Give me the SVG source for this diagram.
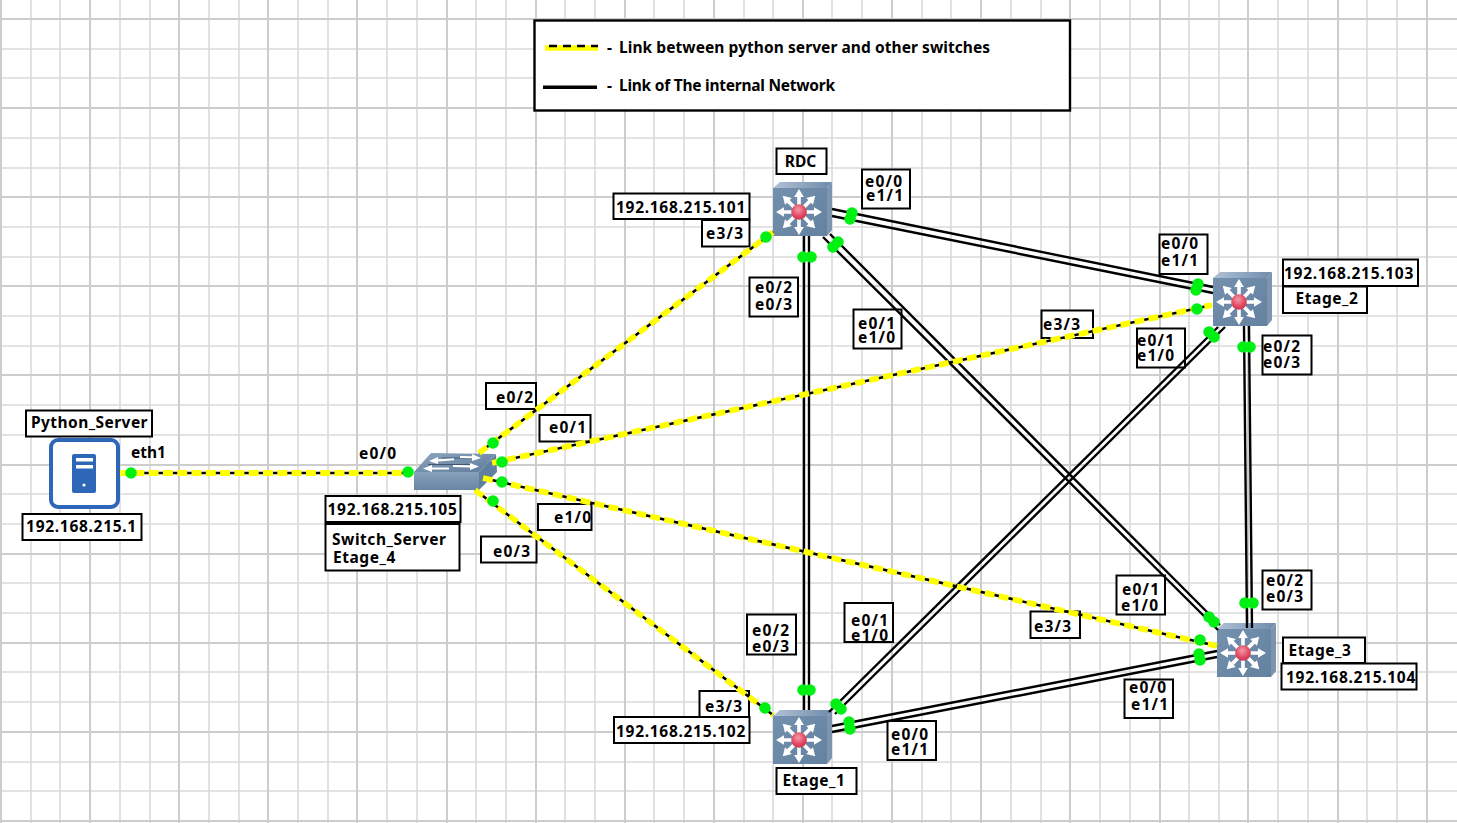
<svg xmlns="http://www.w3.org/2000/svg" xmlns:xlink="http://www.w3.org/1999/xlink" width="1457" height="823" viewBox="0 0 1457 823">
<style>
.minor{stroke:#dadada;stroke-width:1.6;fill:none}
.major{stroke:#cdcdcd;stroke-width:2;fill:none}
.box{fill:#fff;stroke:#000;stroke-width:2}
text{font-family:"Noto Sans","DejaVu Sans",sans-serif;font-weight:700;font-size:15.5px;fill:#000}
.c{text-anchor:middle}
.ip{letter-spacing:.7px}
.nm{letter-spacing:.55px}
.pt{letter-spacing:1.2px}
.ln{stroke:#000;stroke-width:2.4;fill:none}
.yb{stroke:#000;stroke-width:2.600;fill:none}
.yy{stroke:#ffff00;stroke-width:5.800;stroke-dasharray:10 4.300;fill:none}
.dot{fill:#00f014}
</style>
<defs>
<linearGradient id="front" x1="0" y1="0" x2="1" y2="1"><stop offset="0" stop-color="#7390ae"/><stop offset="1" stop-color="#64819f"/></linearGradient>
<linearGradient id="top" x1="0" y1="0" x2="1" y2="0"><stop offset="0" stop-color="#b0c1d6"/><stop offset="1" stop-color="#6f8cab"/></linearGradient>
<linearGradient id="sfront" x1="0" y1="0" x2="0" y2="1"><stop offset="0" stop-color="#87a1bc"/><stop offset="1" stop-color="#6885a3"/></linearGradient>
<linearGradient id="stop" x1="0" y1="0" x2="1" y2="1"><stop offset="0" stop-color="#8ea6bf"/><stop offset="1" stop-color="#5f7c9b"/></linearGradient>
<radialGradient id="red" cx="0.45" cy="0.35" r="0.7"><stop offset="0" stop-color="#f29aa8"/><stop offset="0.6" stop-color="#e34a63"/><stop offset="1" stop-color="#c4324e"/></radialGradient>
<polygon id="ar" points="5,-1.800 15,-1.800 15,-4.800 23,0 15,4.800 15,1.800 5,1.800" fill="#fff"/>
<g id="ml">
<polygon points="-26,-24 -19,-30 33,-30 28,-24" fill="url(#top)"/>
<polygon points="28,-24 33,-30 33,18 28,24" fill="#7c94ae"/>
<rect x="-26" y="-24" width="54" height="48" fill="url(#front)"/>
<use xlink:href="#ar" href="#ar"/>
<use xlink:href="#ar" href="#ar" transform="rotate(45)"/>
<use xlink:href="#ar" href="#ar" transform="rotate(90)"/>
<use xlink:href="#ar" href="#ar" transform="rotate(135)"/>
<use xlink:href="#ar" href="#ar" transform="rotate(180)"/>
<use xlink:href="#ar" href="#ar" transform="rotate(225)"/>
<use xlink:href="#ar" href="#ar" transform="rotate(270)"/>
<use xlink:href="#ar" href="#ar" transform="rotate(315)"/>
<circle r="7.800" fill="url(#red)"/>
</g>
</defs>
<rect width="1457" height="823" fill="#fff"/>
<g id="grid">
<path class="minor" d="M31 0V823M60 0V823M120 0V823M150 0V823M209 0V823M239 0V823M298 0V823M328 0V823M387 0V823M417 0V823M476 0V823M506 0V823M565 0V823M595 0V823M654 0V823M684 0V823M744 0V823M773 0V823M832 0V823M862 0V823M922 0V823M951 0V823M1011 0V823M1041 0V823M1100 0V823M1130 0V823M1189 0V823M1219 0V823M1278 0V823M1308 0V823M1367 0V823M1397 0V823M0 49H1457M0 78H1457M0 138H1457M0 168H1457M0 227H1457M0 257H1457M0 316H1457M0 346H1457M0 405H1457M0 435H1457M0 494H1457M0 524H1457M0 583H1457M0 613H1457M0 672H1457M0 702H1457M0 762H1457M0 791H1457"/>
<path class="major" d="M1 0V823M90 0V823M179 0V823M268 0V823M357 0V823M447 0V823M536 0V823M625 0V823M714 0V823M803 0V823M892 0V823M981 0V823M1070 0V823M1160 0V823M1248 0V823M1338 0V823M1427 0V823M0 19H1457M0 108H1457M0 197H1457M0 286H1457M0 375H1457M0 465H1457M0 554H1457M0 643H1457M0 732H1457M0 821H1457"/>
</g>
<g id="legend">
<rect x="534.500" y="20.500" width="535.500" height="90" fill="#fff" stroke="#000" stroke-width="2.400"/>
<line x1="545" y1="48" x2="598" y2="48" stroke="#ffff00" stroke-width="5.500"/>
<line x1="545" y1="46" x2="598" y2="46" stroke="#000" stroke-width="2.400" stroke-dasharray="8 6" stroke-dashoffset="-4"/>
<line x1="543" y1="87.300" x2="597" y2="87.300" stroke="#000" stroke-width="3.600"/>
<text x="607" y="52.500">-</text><text x="619" y="52.500" letter-spacing=".07">Link between python server and other switches</text>
<text x="607" y="90.500">-</text><text x="619" y="90.500" letter-spacing="-.25">Link of The internal Network</text>
</g>
<g id="node-python-server">
<rect x="26" y="410.500" width="126" height="26" class="box"/><text x="89.500" y="428" class="c" style="letter-spacing:.45px">Python_Server</text>
<rect x="22.500" y="514" width="119" height="26" class="box"/><text x="81.500" y="532" class="c ip">192.168.215.1</text>
<rect x="51" y="440" width="67" height="67" rx="7" fill="#fff" stroke="#2f67b8" stroke-width="4"/>
<rect x="72" y="454" width="24" height="39" rx="2" fill="#2f67b8"/>
<rect x="76" y="458" width="17" height="3.500" fill="#fff"/><rect x="76" y="465" width="17" height="3.500" fill="#fff"/>
<circle cx="84" cy="485" r="1.600" fill="#fff"/>
<text x="131" y="458">eth1</text>
</g>
<g id="node-switch-server">
<polygon points="431,453 496,454 479,472 414,472" fill="url(#stop)"/>
<polygon points="479,472 496,454 497,472 479,490" fill="#61809f"/>
<rect x="414" y="472" width="65" height="18" fill="url(#sfront)"/>
<path d="M442 458H478M428 464.500H474" stroke="#3e5672" stroke-width="1.200" fill="none"/>
<g fill="#fff"><polygon points="429,461 438,457 438,459.300 454,458.300 454,460.300 438,461.500 438,464"/><polygon points="481,458 472,454 472,456.300 460,456 460,458 472,458.300 472,461"/><polygon points="423,468.500 432,465 432,467.500 449,467.500 449,469.500 432,469.500 432,472"/><polygon points="479,466.500 470,463 470,465.300 453,465 453,467 470,467.500 470,470"/></g>
<rect x="325.500" y="496" width="135" height="26" class="box"/><text x="392.500" y="515" class="c ip">192.168.215.105</text>
<rect x="325.500" y="524" width="134" height="46.500" class="box"/><text x="332" y="545" class="nm">Switch_Server</text><text x="333" y="563" class="nm">Etage_4</text>
<text x="359" y="459" class="pt">e0/0</text>
</g>
<g id="node-rdc">
<use xlink:href="#ml" href="#ml" x="799" y="212"/>
<rect x="776.500" y="148.500" width="50" height="25.500" class="box"/><text x="800.500" y="167" class="c">RDC</text>
<rect x="613.500" y="193.500" width="136" height="25.500" class="box"/><text x="681" y="213" class="c ip">192.168.215.101</text>
</g>
<g id="node-etage-1">
<use xlink:href="#ml" href="#ml" x="799" y="740"/>
<rect x="776.500" y="768" width="80" height="26" class="box"/><text x="814" y="786" class="c nm">Etage_1</text>
<rect x="614" y="717" width="135.500" height="26" class="box"/><text x="681" y="737" class="c ip">192.168.215.102</text>
</g>
<g id="node-etage-2">
<use xlink:href="#ml" href="#ml" x="1239" y="302"/>
<rect x="1283" y="259.500" width="135" height="26.500" class="box"/><text x="1349" y="279" class="c ip">192.168.215.103</text>
<rect x="1283" y="286.500" width="84" height="26.500" class="box"/><text x="1327" y="304" class="c nm">Etage_2</text>
</g>
<g id="node-etage-3">
<use xlink:href="#ml" href="#ml" x="1243" y="653"/>
<rect x="1283" y="637.500" width="82" height="25.500" class="box"/><text x="1320" y="656" class="c nm">Etage_3</text>
<rect x="1281.500" y="663.500" width="135" height="26" class="box"/><text x="1351" y="683" class="c ip">192.168.215.104</text>
</g>
<g id="port-labels">
<rect x="486" y="383" width="50" height="26" class="box"/><text x="496" y="403" class="pt">e0/2</text>
<rect x="539.500" y="415" width="51" height="26.500" class="box"/><text x="549" y="433" class="pt">e0/1</text>
<rect x="538" y="504" width="53.500" height="26" class="box"/><text x="554" y="523" class="pt">e1/0</text>
<rect x="481" y="536.500" width="55.500" height="26" class="box"/><text x="493" y="557" class="pt">e0/3</text>
<rect x="702" y="220" width="47.500" height="26.500" class="box"/><text x="706" y="239" class="pt">e3/3</text>
<rect x="862" y="169.500" width="48" height="39" class="box"/><text x="865" y="187" class="pt">e0/0</text><text x="866" y="201" class="pt">e1/1</text>
<rect x="749.500" y="277.500" width="48.500" height="39" class="box"/><text x="755" y="293" class="pt">e0/2</text><text x="755" y="310" class="pt">e0/3</text>
<rect x="853.500" y="309.500" width="48" height="39" class="box"/><text x="858" y="329" class="pt">e0/1</text><text x="858" y="343" class="pt">e1/0</text>
<rect x="1159.500" y="234.500" width="48" height="39.500" class="box"/><text x="1161" y="249" class="pt">e0/0</text><text x="1161" y="266" class="pt">e1/1</text>
<rect x="1041.500" y="310.500" width="51.500" height="27.500" class="box"/><text x="1043" y="330" class="pt">e3/3</text>
<rect x="1137" y="328.500" width="48" height="39" class="box"/><text x="1137" y="346" class="pt">e0/1</text><text x="1137" y="361" class="pt">e1/0</text>
<rect x="1262.500" y="335.500" width="49" height="39" class="box"/><text x="1263" y="352" class="pt">e0/2</text><text x="1263" y="368" class="pt">e0/3</text>
<rect x="1116.500" y="575.500" width="48.500" height="39" class="box"/><text x="1122" y="595" class="pt">e0/1</text><text x="1121" y="611" class="pt">e1/0</text>
<rect x="1262.500" y="570.500" width="49" height="39" class="box"/><text x="1266" y="586" class="pt">e0/2</text><text x="1266" y="602" class="pt">e0/3</text>
<rect x="1030.500" y="611.500" width="49.500" height="26.500" class="box"/><text x="1034" y="632" class="pt">e3/3</text>
<rect x="1124.500" y="679.500" width="48.500" height="38.500" class="box"/><text x="1129" y="693" class="pt">e0/0</text><text x="1131" y="710" class="pt">e1/1</text>
<rect x="747" y="614.500" width="49" height="40" class="box"/><text x="752" y="636" class="pt">e0/2</text><text x="752" y="652" class="pt">e0/3</text>
<rect x="844.500" y="603" width="48.500" height="39" class="box"/><text x="851" y="626" class="pt">e0/1</text><text x="851" y="641" class="pt">e1/0</text>
<rect x="699.500" y="691" width="49.500" height="26" class="box"/><text x="705" y="712" class="pt">e3/3</text>
<rect x="887.500" y="721" width="48.500" height="39" class="box"/><text x="891" y="740" class="pt">e0/0</text><text x="891" y="755" class="pt">e1/1</text>
</g>
<g id="connectors">
<path class="ln" d="M832 209L1213 287M832 216L1213 293M804 236V710M809 236V710M823 237L1218 630M830 234L1220 625M829 712L1218 327M835 714L1225 327M832 726L1217 651M832 732L1217 657M1244 326L1247 628M1249 326L1252 628"/>
<path class="yb" d="M120 473H413M479 453L773 232M492 463L1212 305M483 478L1217 646M475 490L773 715"/>
<path class="yy" d="M120 473H413M479 453L773 232M492 463L1212 305M483 478L1217 646M475 490L773 715"/>
<g id="ports" class="dot">
<circle cx="131" cy="473" r="5.800"/><circle cx="408" cy="472" r="5.800"/>
<circle cx="493" cy="443" r="5.800"/><circle cx="502" cy="462" r="5.800"/><circle cx="502" cy="482" r="5.800"/><circle cx="493" cy="501" r="5.800"/>
<circle cx="766" cy="237" r="5.800"/><circle cx="765" cy="708" r="5.800"/><circle cx="1197" cy="309" r="5.800"/><circle cx="1200" cy="640" r="5.800"/>
<circle cx="852" cy="213" r="5.800"/><circle cx="850" cy="219" r="5.800"/>
<circle cx="1198" cy="284" r="5.800"/><circle cx="1196" cy="290" r="5.800"/>
<circle cx="803" cy="257" r="5.800"/><circle cx="811" cy="257" r="5.800"/>
<circle cx="803" cy="690" r="5.800"/><circle cx="810" cy="690" r="5.800"/>
<circle cx="838" cy="242" r="5.800"/><circle cx="833" cy="247" r="5.800"/>
<circle cx="1214" cy="622" r="5.800"/><circle cx="1209" cy="617" r="5.800"/>
<circle cx="1209" cy="332" r="5.800"/><circle cx="1214" cy="337" r="5.800"/>
<circle cx="836" cy="704" r="5.800"/><circle cx="841" cy="709" r="5.800"/>
<circle cx="849" cy="722" r="5.800"/><circle cx="850" cy="729" r="5.800"/>
<circle cx="1199" cy="654" r="5.800"/><circle cx="1200" cy="660" r="5.800"/>
<circle cx="1243" cy="347" r="5.800"/><circle cx="1250" cy="347" r="5.800"/>
<circle cx="1245" cy="603" r="5.800"/><circle cx="1253" cy="603" r="5.800"/>
</g>
</g>
</svg>
